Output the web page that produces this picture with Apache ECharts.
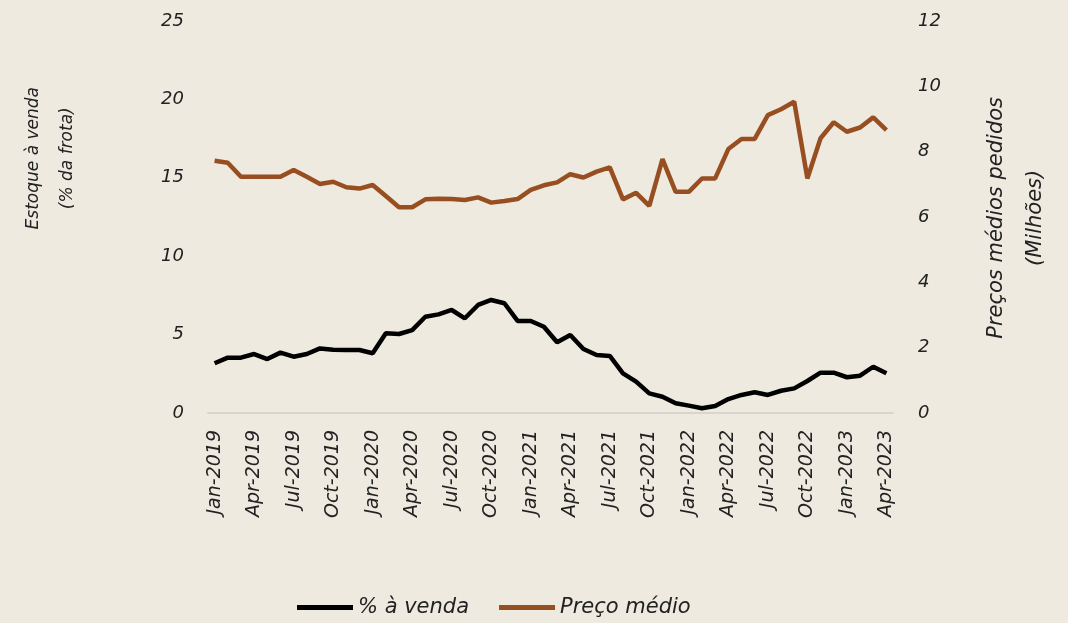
<!DOCTYPE html>
<html>
<head>
<meta charset="utf-8"/>
<title>Estoque à venda e preço médio</title>
<script src="https://cdn.jsdelivr.net/npm/echarts@6/dist/echarts.min.js"></script>
<style>
  html, body { margin: 0; padding: 0; background: #EEEAE0; }
  #main { width: 1068px; height: 623px; }
</style>
</head>
<body>
<div id="main"></div>
<script type="text/javascript">
// months Jan-2019 .. Apr-2023
var meses = ['Jan','Feb','Mar','Apr','May','Jun','Jul','Aug','Sep','Oct','Nov','Dec'];
var categorias = [];
for (var a = 2019; a <= 2023; a++) {
    for (var m = 0; m < 12; m++) {
        if (a === 2023 && m > 3) break;
        categorias.push(meses[m] + '-' + a);
    }
}

// % à venda (eixo esquerdo)
var pctVenda = [
    3.17, 3.53, 3.53, 3.76, 3.44, 3.85, 3.59, 3.76, 4.12, 4.04, 4.02, 4.02,
    3.81, 5.08, 5.04, 5.29, 6.14, 6.29, 6.57, 6.04, 6.89, 7.21, 7.00, 5.87,
    5.87, 5.50, 4.51, 4.97, 4.08, 3.70, 3.64, 2.53, 2.00, 1.25, 1.04, 0.62,
    0.47, 0.30, 0.45, 0.89, 1.15, 1.32, 1.15, 1.42, 1.57, 2.04, 2.57, 2.57,
    2.28, 2.38, 2.95, 2.53
];

// Preço médio (eixo direito, milhões)
var precoMedio = [
    7.72, 7.66, 7.23, 7.23, 7.23, 7.23, 7.44, 7.23, 7.01, 7.08, 6.91, 6.87,
    6.98, 6.64, 6.30, 6.30, 6.54, 6.56, 6.55, 6.52, 6.60, 6.44, 6.49, 6.55,
    6.83, 6.97, 7.06, 7.31, 7.21, 7.39, 7.52, 6.54, 6.74, 6.34, 7.77, 6.77,
    6.77, 7.18, 7.18, 8.08, 8.39, 8.39, 9.12, 9.30, 9.53, 7.18, 8.41, 8.90,
    8.61, 8.74, 9.05, 8.66
];

var fonte = '"DejaVu Sans", sans-serif';
var corTexto = '#222222';

var myChart = echarts.init(document.getElementById('main'));
var option = {
    backgroundColor: '#EEEAE0',
    animation: false,
    textStyle: { fontFamily: fonte, fontStyle: 'italic', color: corTexto },
    grid: { left: 208, right: 175, top: 21, bottom: 210 },
    legend: {
        bottom: 0,
        left: 292,
        itemWidth: 56,
        itemHeight: 5,
        itemGap: 30,
        icon: 'rect',
        textStyle: { fontSize: 21, fontStyle: 'italic', fontFamily: fonte, color: corTexto },
        data: ['% à venda', 'Preço médio']
    },
    xAxis: {
        type: 'category',
        data: categorias,
        boundaryGap: true,
        axisLine: { lineStyle: { color: '#d8d5cf', width: 2 } },
        axisTick: { show: false },
        axisLabel: {
            interval: 2,
            rotate: 90,
            margin: 17,
            fontSize: 19,
            fontStyle: 'italic',
            fontFamily: fonte,
            color: corTexto
        }
    },
    yAxis: [{
        type: 'value',
        min: 0, max: 25, interval: 5,
        splitLine: { show: false },
        axisLine: { show: false },
        axisLabel: { fontSize: 18, fontStyle: 'italic', fontFamily: fonte, color: corTexto, margin: 24 }
    }, {
        type: 'value',
        min: 0, max: 12, interval: 2,
        splitLine: { show: false },
        axisLine: { show: false },
        axisLabel: { fontSize: 18, fontStyle: 'italic', fontFamily: fonte, color: corTexto, margin: 25 }
    }],
    graphic: [{
        type: 'text',
        left: 17, top: 87,
        rotation: Math.PI / 2,
        style: {
            text: 'Estoque à venda\n(% da frota)',
            font: 'italic 17px ' + fonte,
            fill: corTexto,
            textAlign: 'center',
            lineHeight: 34
        }
    }, {
        type: 'text',
        left: 977, top: 97,
        rotation: Math.PI / 2,
        style: {
            text: 'Preços médios pedidos\n(Milhões)',
            font: 'italic 21px ' + fonte,
            fill: corTexto,
            textAlign: 'center',
            lineHeight: 39
        }
    }],
    series: [{
        name: '% à venda',
        type: 'line',
        yAxisIndex: 0,
        data: pctVenda,
        symbol: 'none',
        color: '#000000',
        lineStyle: { width: 4.5, color: '#000000' }
    }, {
        name: 'Preço médio',
        type: 'line',
        yAxisIndex: 1,
        data: precoMedio,
        symbol: 'none',
        color: '#974F22',
        lineStyle: { width: 4.5, color: '#974F22' }
    }]
};
myChart.setOption(option);
</script>
</body>
</html>
